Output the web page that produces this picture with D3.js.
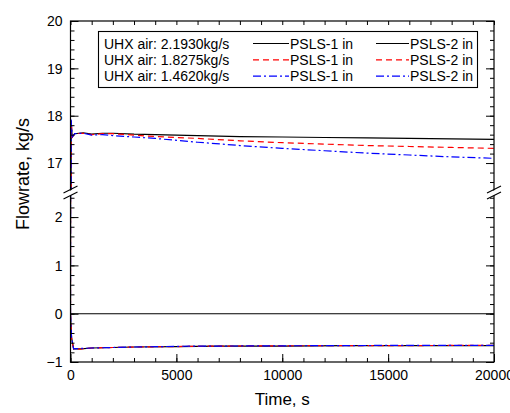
<!DOCTYPE html>
<html><head><meta charset="utf-8">
<script src="https://cdn.jsdelivr.net/npm/d3@7"></script>
<style>body{margin:0;background:#fff}svg{display:block}text{font-family:"Liberation Sans",Arial,sans-serif;fill:#000}</style>
</head><body><svg id="c" width="510" height="413"></svg>
<script>
// ---- data ----
const timeIn1 = [0, 30, 80, 200, 600, 1000, 1500, 2000, 3000, 4000, 6000, 8000, 10000, 12000, 14000, 16000, 18000, 20000];
const blackIn1 = [0, 17.9, 17.55, 17.62, 17.64, 17.61, 17.63, 17.63, 17.61, 17.6, 17.58, 17.56, 17.55, 17.54, 17.53, 17.52, 17.51, 17.5];
const redIn1   = [0, 17.88, 17.55, 17.62, 17.63, 17.6, 17.62, 17.62, 17.59, 17.56, 17.52, 17.47, 17.43, 17.4, 17.37, 17.35, 17.33, 17.31];
const blueIn1  = [0, 17.92, 17.55, 17.62, 17.63, 17.59, 17.6, 17.58, 17.55, 17.52, 17.44, 17.37, 17.31, 17.26, 17.21, 17.17, 17.13, 17.1];
const timeIn2 = [0, 50, 150, 500, 1000, 2000, 3000, 5000, 7000, 10000, 13000, 16000, 20000];
const blackIn2 = [0, -0.5, -0.73, -0.73, -0.71, -0.70, -0.69, -0.68, -0.67, -0.67, -0.66, -0.66, -0.66];
const redIn2   = [0, -0.5, -0.74, -0.73, -0.71, -0.70, -0.69, -0.68, -0.67, -0.665, -0.66, -0.66, -0.655];
const blueIn2  = [0, -0.5, -0.73, -0.72, -0.71, -0.70, -0.69, -0.675, -0.67, -0.665, -0.66, -0.655, -0.655];
const cases = ["UHX air: 2.1930kg/s", "UHX air: 1.8275kg/s", "UHX air: 1.4620kg/s"];
const seriesNames = ["PSLS-1 in", "PSLS-2 in"];
const xTicks = [0, 5000, 10000, 15000, 20000];
const yTopTicks = [17, 18, 19, 20];
const yBotTicks = [-1, 0, 1, 2];
const topDomain = [16.41, 20];
const botDomain = [-1, 2.54];

// ---- layout ----
const L = 70.5, R = 494, T = 21, B = 362, BRK = 191;
const colors = ["#000000", "#ff0000", "#0000ff"];
const dashes = [null, "6,4", "8,3,2,3"];
const svg = d3.select("#c");
const x = d3.scaleLinear().domain([0, 20000]).range([L, R]);
const yT = d3.scaleLinear().domain(topDomain).range([BRK, T]);
const yB = d3.scaleLinear().domain(botDomain).range([B, BRK]);

const defs = svg.append("defs");
defs.append("clipPath").attr("id", "ct").append("rect").attr("x", L).attr("y", T).attr("width", R - L).attr("height", BRK - T);
defs.append("clipPath").attr("id", "cb").append("rect").attr("x", L).attr("y", BRK).attr("width", R - L).attr("height", B - BRK);

// zero line
svg.append("line").attr("x1", L).attr("x2", R).attr("y1", yB(0)).attr("y2", yB(0)).attr("stroke", "#000").attr("stroke-width", 1.1);

// series
const s1 = [blackIn1, redIn1, blueIn1], s2 = [blackIn2, redIn2, blueIn2];
[["ct", yT], ["cb", yB]].forEach(([cid, ys]) => {
  const g = svg.append("g").attr("clip-path", `url(#${cid})`);
  [0, 1, 2].forEach(i => {
    [[timeIn1, s1[i]], [timeIn2, s2[i]]].forEach(([tt, vv]) => {
      const ln = d3.line().x((d, k) => x(tt[k])).y(d => ys(d));
      g.append("path").attr("d", ln(vv)).attr("fill", "none").attr("stroke", colors[i])
        .attr("stroke-width", 1.2).attr("stroke-dasharray", dashes[i]);
    });
  });
});

// frame
svg.append("rect").attr("x", L).attr("y", T).attr("width", R - L).attr("height", B - T).attr("fill", "none").attr("stroke", "#000").attr("stroke-width", 1.2);

// axes
function ticks(axisGen, tr) {
  const g = svg.append("g").attr("transform", tr).call(axisGen);
  g.select(".domain").remove();
  g.selectAll("line").attr("stroke", "#000").attr("stroke-width", 1);
  return g;
}
// x bottom
const xMinor = d3.range(0, 20001, 1000);
ticks(d3.axisTop(x).tickValues(xMinor).tickSize(4).tickFormat(""), `translate(0,${B})`);
const gx = ticks(d3.axisTop(x).tickValues(xTicks).tickSize(8).tickFormat(d3.format("d")), `translate(0,${B})`);
gx.selectAll("text").attr("y", 18).attr("dy", 0).attr("font-size", 14).style("font-family", "Liberation Sans, Arial, sans-serif").attr("fill", "#000");
// x top
ticks(d3.axisBottom(x).tickValues(xMinor).tickSize(4).tickFormat(""), `translate(0,${T})`);

// y axes
const topMinor = d3.range(16.6, 20.001, 0.2), botMinor = d3.range(-1, 2.41, 0.2);
[[yT, topMinor, yTopTicks], [yB, botMinor, yBotTicks]].forEach(([ys, mn, mj]) => {
  ticks(d3.axisRight(ys).tickValues(mn).tickSize(4).tickFormat(""), `translate(${L},0)`);
  const gy = ticks(d3.axisRight(ys).tickValues(mj).tickSize(8).tickFormat(d3.format("d")), `translate(${L},0)`);
  gy.selectAll("text").attr("x", -8).attr("text-anchor", "end").attr("dy", "0.35em").attr("font-size", 14).style("font-family", "Liberation Sans, Arial, sans-serif").attr("fill", "#000");
  ticks(d3.axisLeft(ys).tickValues(mn).tickSize(4).tickFormat(""), `translate(${R},0)`);
  ticks(d3.axisLeft(ys).tickValues(mj).tickSize(8).tickFormat(""), `translate(${R},0)`);
});

// break marks
[L, R].forEach(ax => {
  svg.append("path").attr("d", `M${ax - 7},${BRK + 3} L${ax + 7},${BRK - 4} L${ax + 7},${BRK + 1} L${ax - 7},${BRK + 8}Z`).attr("fill", "#fff");
  svg.append("line").attr("x1", ax - 7).attr("y1", BRK + 2).attr("x2", ax + 7).attr("y2", BRK - 5).attr("stroke", "#000").attr("stroke-width", 1.1);
  svg.append("line").attr("x1", ax - 7).attr("y1", BRK + 8).attr("x2", ax + 7).attr("y2", BRK + 1).attr("stroke", "#000").attr("stroke-width", 1.1);
});

// legend
const lg = svg.append("g");
lg.append("rect").attr("x", 98.5).attr("y", 31.5).attr("width", 379).attr("height", 56).attr("fill", "#fff").attr("stroke", "#000").attr("stroke-width", 1.1);
cases.forEach((c, i) => {
  const yy = 48.5 + i * 16.3;
  lg.append("text").attr("x", 104).attr("y", yy).attr("font-size", 14).text(c);
  [[253, 290], [376, 410]].forEach(([x0, tx], j) => {
    lg.append("line").attr("x1", x0).attr("x2", tx - 1).attr("y1", yy - 5).attr("y2", yy - 5)
      .attr("stroke", colors[i]).attr("stroke-width", 1.2).attr("stroke-dasharray", dashes[i]);
    lg.append("text").attr("x", tx).attr("y", yy).attr("font-size", 14).text(seriesNames[j]);
  });
});

// axis titles
svg.append("text").attr("transform", "translate(29,174) rotate(-90)").attr("text-anchor", "middle").attr("font-size", 18).text("Flowrate, kg/s");
svg.append("text").attr("x", (L + R) / 2).attr("y", 405).attr("text-anchor", "middle").attr("font-size", 17).text("Time, s");
</script></body></html>
